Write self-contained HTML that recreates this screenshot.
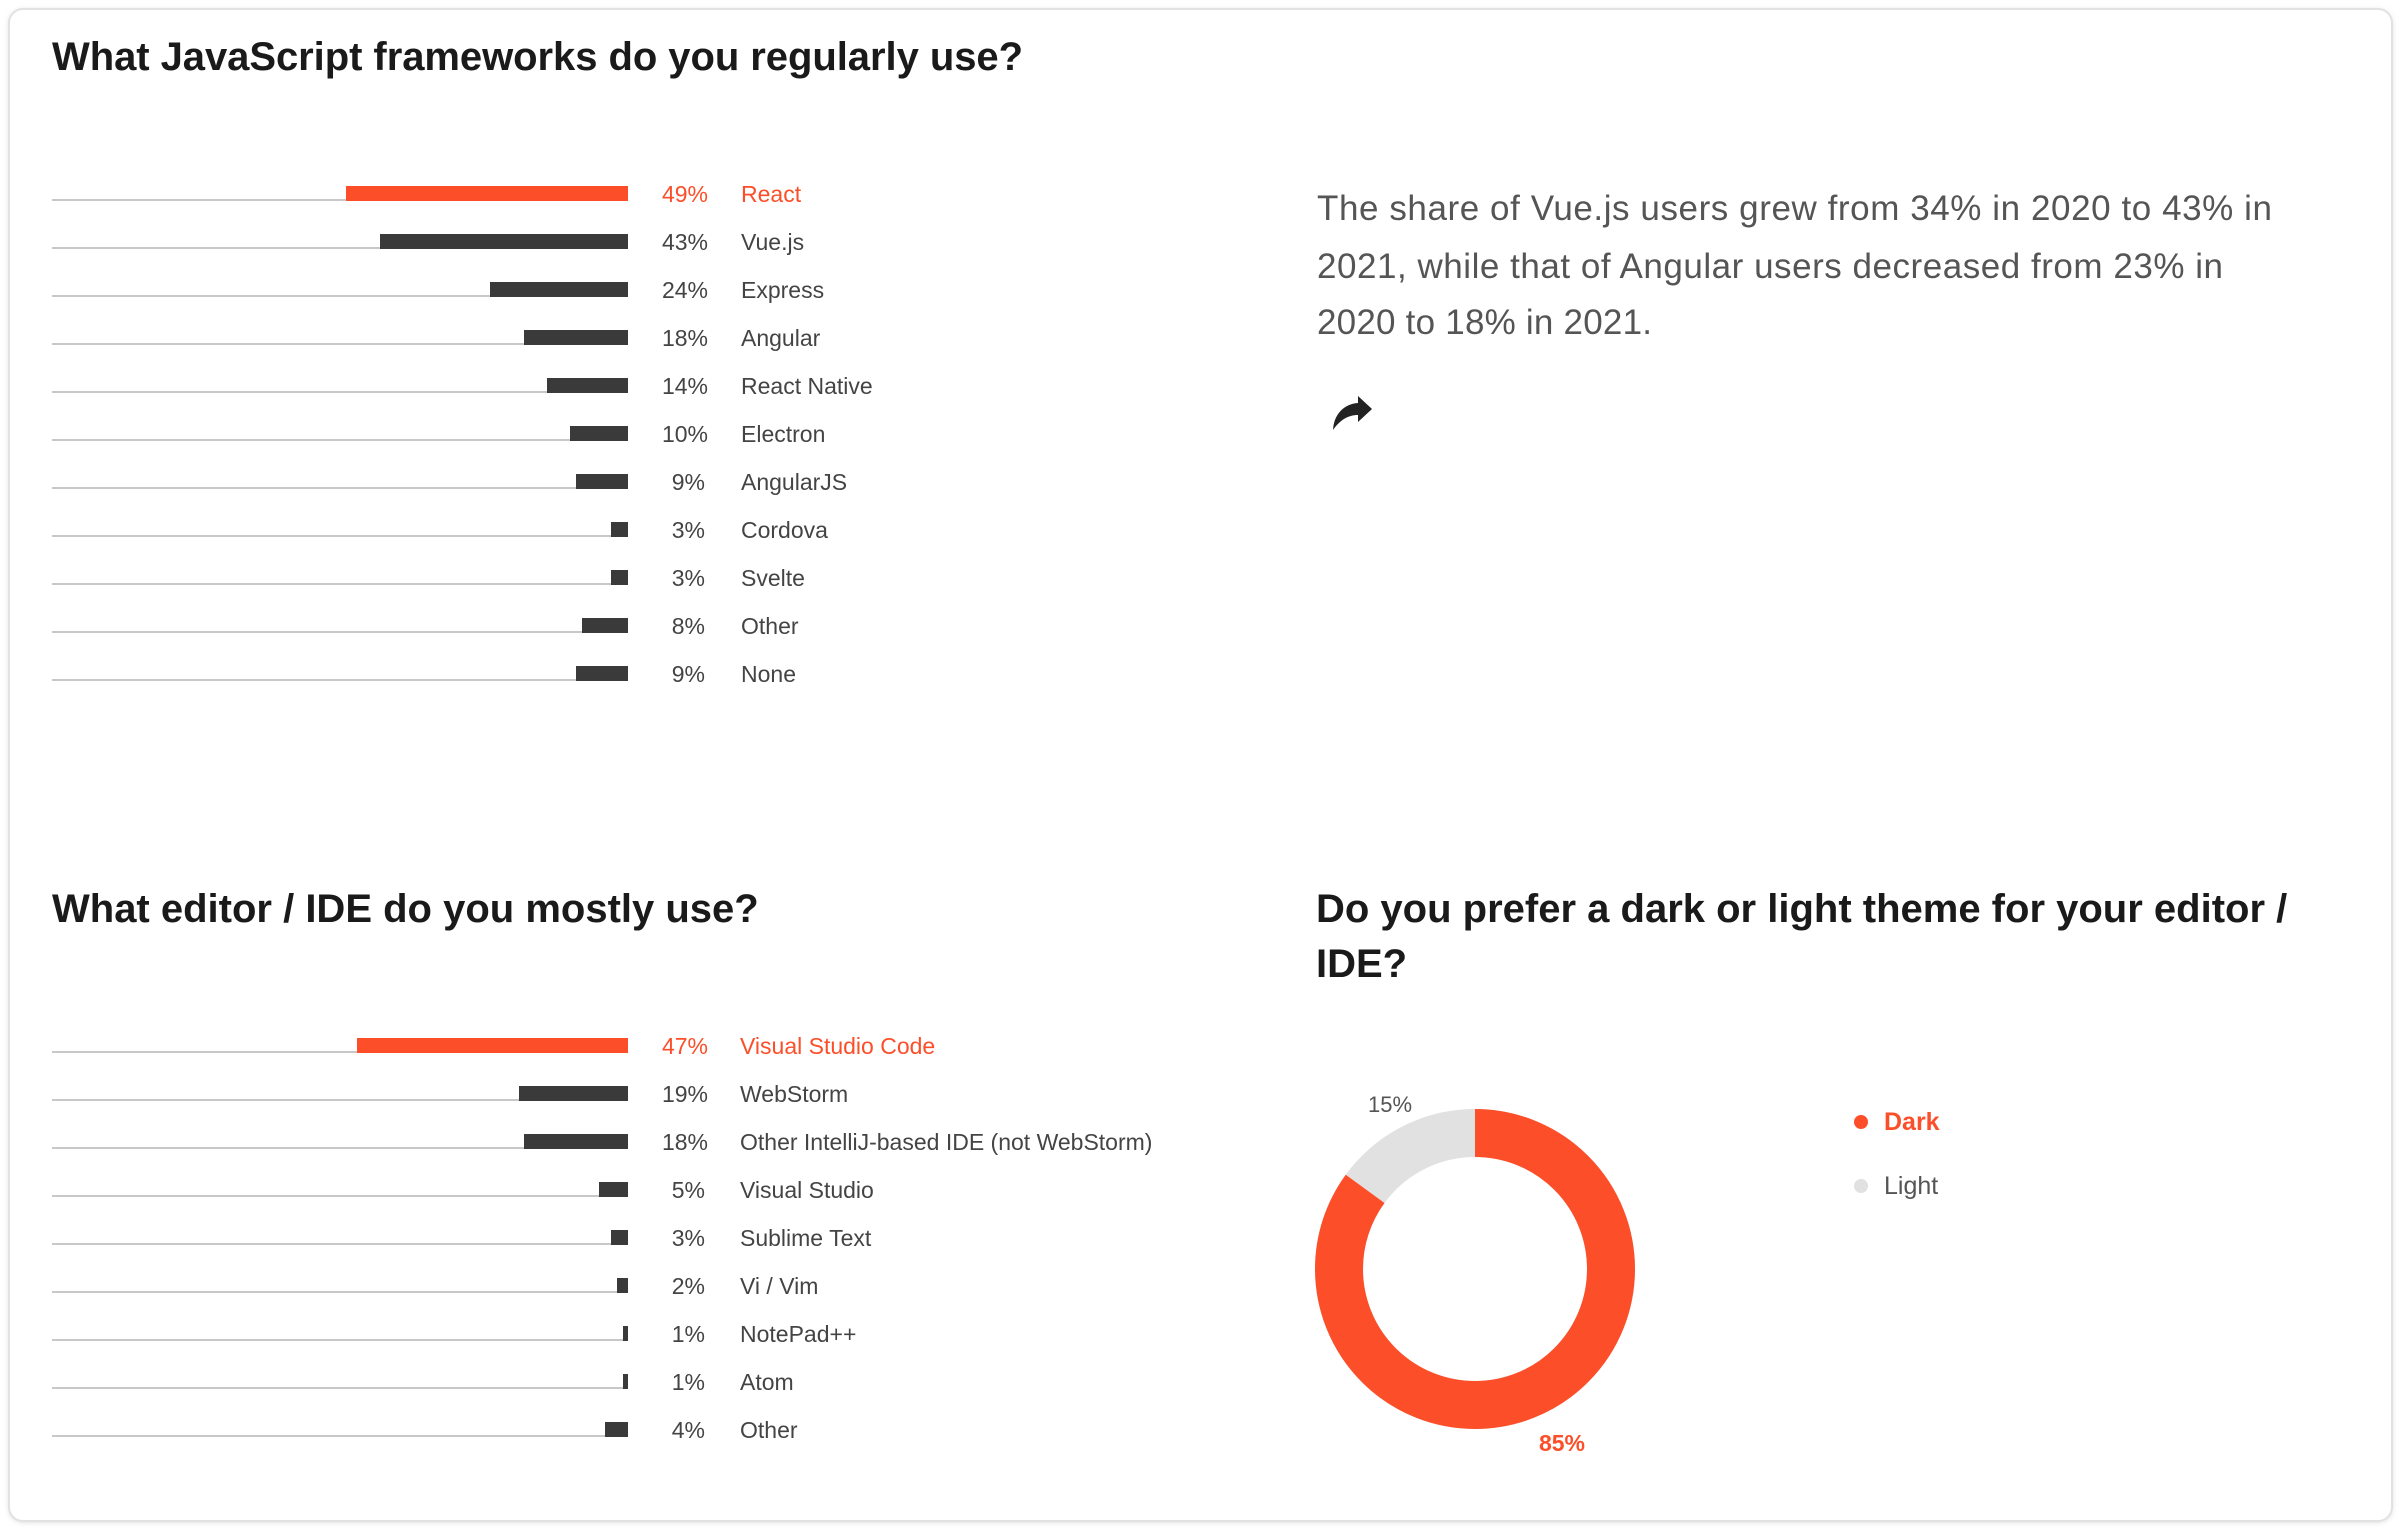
<!DOCTYPE html>
<html><head><meta charset="utf-8"><style>
html,body{margin:0;padding:0;background:#fff;}
svg{display:block;}
text{font-family:"Liberation Sans",Arial,sans-serif;}
</style></head><body>
<svg width="2402" height="1528" viewBox="0 0 2402 1528" xmlns="http://www.w3.org/2000/svg">
<defs><filter id="sh" x="-5%" y="-5%" width="110%" height="110%"><feGaussianBlur stdDeviation="3"/></filter></defs>
<rect x="9" y="10" width="2383" height="1512" rx="14" fill="#d8d8d8" filter="url(#sh)"/>
<rect x="9" y="9" width="2383" height="1512" rx="14" fill="#fff" stroke="#e2e2e2" stroke-width="2"/>

<text x="52" y="70" font-size="40" font-weight="bold" fill="#1a1a1a" textLength="971">What JavaScript frameworks do you regularly use?</text>

<g font-size="23" fill="#444">
<line x1="52" y1="200" x2="628" y2="200" stroke="#c8c8c8" stroke-width="2"/><rect x="346" y="186" width="282" height="15" fill="#fc4f29"/><text x="708" y="202" text-anchor="end" fill="#fc4f29">49%</text><text x="741" y="202" fill="#fc4f29">React</text>
<line x1="52" y1="248" x2="628" y2="248" stroke="#c8c8c8" stroke-width="2"/><rect x="380" y="234" width="248" height="15" fill="#3a3a3a"/><text x="708" y="250" text-anchor="end">43%</text><text x="741" y="250">Vue.js</text>
<line x1="52" y1="296" x2="628" y2="296" stroke="#c8c8c8" stroke-width="2"/><rect x="490" y="282" width="138" height="15" fill="#3a3a3a"/><text x="708" y="298" text-anchor="end">24%</text><text x="741" y="298">Express</text>
<line x1="52" y1="344" x2="628" y2="344" stroke="#c8c8c8" stroke-width="2"/><rect x="524" y="330" width="104" height="15" fill="#3a3a3a"/><text x="708" y="346" text-anchor="end">18%</text><text x="741" y="346">Angular</text>
<line x1="52" y1="392" x2="628" y2="392" stroke="#c8c8c8" stroke-width="2"/><rect x="547" y="378" width="81" height="15" fill="#3a3a3a"/><text x="708" y="394" text-anchor="end">14%</text><text x="741" y="394">React Native</text>
<line x1="52" y1="440" x2="628" y2="440" stroke="#c8c8c8" stroke-width="2"/><rect x="570" y="426" width="58" height="15" fill="#3a3a3a"/><text x="708" y="442" text-anchor="end">10%</text><text x="741" y="442">Electron</text>
<line x1="52" y1="488" x2="628" y2="488" stroke="#c8c8c8" stroke-width="2"/><rect x="576" y="474" width="52" height="15" fill="#3a3a3a"/><text x="705" y="490" text-anchor="end">9%</text><text x="741" y="490">AngularJS</text>
<line x1="52" y1="536" x2="628" y2="536" stroke="#c8c8c8" stroke-width="2"/><rect x="611" y="522" width="17" height="15" fill="#3a3a3a"/><text x="705" y="538" text-anchor="end">3%</text><text x="741" y="538">Cordova</text>
<line x1="52" y1="584" x2="628" y2="584" stroke="#c8c8c8" stroke-width="2"/><rect x="611" y="570" width="17" height="15" fill="#3a3a3a"/><text x="705" y="586" text-anchor="end">3%</text><text x="741" y="586">Svelte</text>
<line x1="52" y1="632" x2="628" y2="632" stroke="#c8c8c8" stroke-width="2"/><rect x="582" y="618" width="46" height="15" fill="#3a3a3a"/><text x="705" y="634" text-anchor="end">8%</text><text x="741" y="634">Other</text>
<line x1="52" y1="680" x2="628" y2="680" stroke="#c8c8c8" stroke-width="2"/><rect x="576" y="666" width="52" height="15" fill="#3a3a3a"/><text x="705" y="682" text-anchor="end">9%</text><text x="741" y="682">None</text>
</g>

<g font-size="35" fill="#555">
<text x="1317" y="220" textLength="955">The share of Vue.js users grew from 34% in 2020 to 43% in</text>
<text x="1317" y="278" textLength="906">2021, while that of Angular users decreased from 23% in</text>
<text x="1317" y="334" textLength="335">2020 to 18% in 2021.</text>
</g>
<path d="M1333 430 C1334 414 1344 404 1358 403 L1358 396 L1372 409 L1358 422 L1358 415 C1348 415 1340 420 1333 430 Z" fill="#222"/>

<text x="52" y="922" font-size="40" font-weight="bold" fill="#1a1a1a">What editor / IDE do you mostly use?</text>

<g font-size="23" fill="#444">
<line x1="52" y1="1052" x2="628" y2="1052" stroke="#c8c8c8" stroke-width="2"/><rect x="357" y="1038" width="271" height="15" fill="#fc4f29"/><text x="708" y="1054" text-anchor="end" fill="#fc4f29">47%</text><text x="740" y="1054" fill="#fc4f29">Visual Studio Code</text>
<line x1="52" y1="1100" x2="628" y2="1100" stroke="#c8c8c8" stroke-width="2"/><rect x="519" y="1086" width="109" height="15" fill="#3a3a3a"/><text x="708" y="1102" text-anchor="end">19%</text><text x="740" y="1102">WebStorm</text>
<line x1="52" y1="1148" x2="628" y2="1148" stroke="#c8c8c8" stroke-width="2"/><rect x="524" y="1134" width="104" height="15" fill="#3a3a3a"/><text x="708" y="1150" text-anchor="end">18%</text><text x="740" y="1150">Other IntelliJ-based IDE (not WebStorm)</text>
<line x1="52" y1="1196" x2="628" y2="1196" stroke="#c8c8c8" stroke-width="2"/><rect x="599" y="1182" width="29" height="15" fill="#3a3a3a"/><text x="705" y="1198" text-anchor="end">5%</text><text x="740" y="1198">Visual Studio</text>
<line x1="52" y1="1244" x2="628" y2="1244" stroke="#c8c8c8" stroke-width="2"/><rect x="611" y="1230" width="17" height="15" fill="#3a3a3a"/><text x="705" y="1246" text-anchor="end">3%</text><text x="740" y="1246">Sublime Text</text>
<line x1="52" y1="1292" x2="628" y2="1292" stroke="#c8c8c8" stroke-width="2"/><rect x="617" y="1278" width="11" height="15" fill="#3a3a3a"/><text x="705" y="1294" text-anchor="end">2%</text><text x="740" y="1294">Vi / Vim</text>
<line x1="52" y1="1340" x2="628" y2="1340" stroke="#c8c8c8" stroke-width="2"/><rect x="623" y="1326" width="5" height="15" fill="#3a3a3a"/><text x="705" y="1342" text-anchor="end">1%</text><text x="740" y="1342">NotePad++</text>
<line x1="52" y1="1388" x2="628" y2="1388" stroke="#c8c8c8" stroke-width="2"/><rect x="623" y="1374" width="5" height="15" fill="#3a3a3a"/><text x="705" y="1390" text-anchor="end">1%</text><text x="740" y="1390">Atom</text>
<line x1="52" y1="1436" x2="628" y2="1436" stroke="#c8c8c8" stroke-width="2"/><rect x="605" y="1422" width="23" height="15" fill="#3a3a3a"/><text x="705" y="1438" text-anchor="end">4%</text><text x="740" y="1438">Other</text>
</g>

<text x="1316" y="922" font-size="40" font-weight="bold" fill="#1a1a1a">Do you prefer a dark or light theme for your editor /</text>
<text x="1316" y="977" font-size="40" font-weight="bold" fill="#1a1a1a">IDE?</text>

<circle cx="1475" cy="1269" r="136" fill="none" stroke="#e1e1e1" stroke-width="48"/>
<circle cx="1475" cy="1269" r="136" fill="none" stroke="#fc4f29" stroke-width="48" stroke-dasharray="726.3 1000" transform="rotate(-90 1475 1269)"/>
<text x="1390" y="1112" font-size="22" fill="#555" text-anchor="middle">15%</text>
<text x="1562" y="1451" font-size="23" font-weight="bold" fill="#fc4f29" text-anchor="middle">85%</text>

<circle cx="1861" cy="1122" r="7" fill="#fc4f29"/>
<text x="1884" y="1130" font-size="25" font-weight="bold" fill="#fc4f29">Dark</text>
<circle cx="1861" cy="1186" r="7" fill="#e1e1e1"/>
<text x="1884" y="1194" font-size="25" fill="#555">Light</text>
</svg>
</body></html>
